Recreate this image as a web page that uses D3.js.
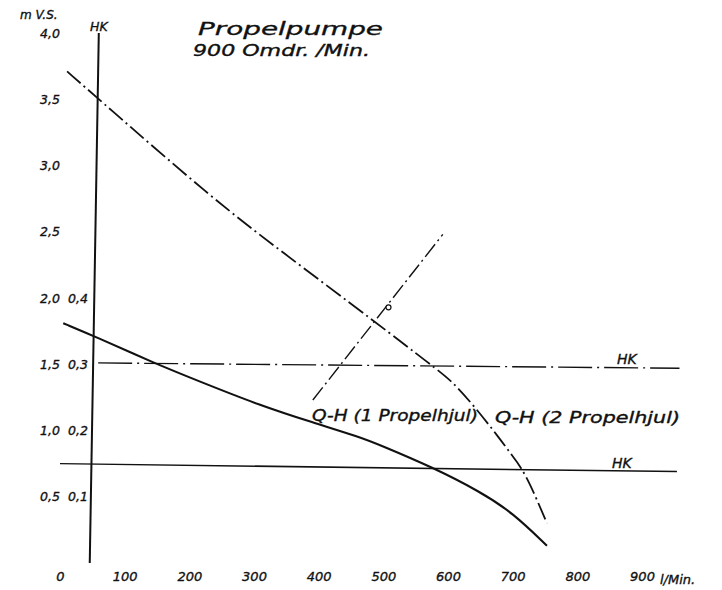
<!DOCTYPE html>
<html><head><meta charset="utf-8">
<script src="https://cdn.jsdelivr.net/npm/d3@7/dist/d3.min.js"></script>
<style>
html,body{margin:0;padding:0;background:#fff;}
svg text{font-family:"DejaVu Sans","Liberation Sans",sans-serif;font-style:italic;fill:#111;stroke:#111;stroke-width:0.35px;}
</style></head>
<body><svg id="c" width="722" height="590"></svg>
<script>
// ---- data ----
const xTickValues = [0,100,200,300,400,500,600,700,800,900];
const xTickLabels = ["0","100","200","300","400","500","600","700","800","900"];
const yTickValues = [4.0,3.5,3.0,2.5,2.0,1.5,1.0,0.5];
const yTickLabels = ["4,0","3,5","3,0","2,5","2,0","1,5","1,0","0,5"];
const hkTickValues = [2.0,1.5,1.0,0.5];
const hkTickLabels = ["0,4","0,3","0,2","0,1"];

// Q-H (1 Propelhjul) – solid
const q1 = [5, 54, 145, 216, 309, 391, 464, 495, 577, 649, 700, 753];
const h1 = [1.81, 1.71, 1.51, 1.37, 1.19, 1.06, 0.95, 0.89, 0.72, 0.54, 0.38, 0.13];
// Q-H (2 Propelhjul) – dash-dot
const q2 = [11, 60, 236, 340, 490, 575, 607, 641, 680, 696, 719, 753];
const h2 = [3.71, 3.50, 2.75, 2.36, 1.81, 1.49, 1.37, 1.18, 0.94, 0.83, 0.69, 0.30];
// operating line (dash-dot) and marked point
const qOp = [391, 592];
const hOp = [1.23, 2.48];
const qPoint = [508];
const hPoint = [1.93];
// HK reference lines
const qHKvert = [60, 46];
const hHKvert = [4.0, 0.0];
const qHKupper = [59, 958];
const hHKupper = [1.51, 1.47];
const qHKlower = [0, 954];
const hHKlower = [0.75, 0.69];

// ---- scales ----
const svg = d3.select("#c");
const x = d3.scaleLinear().domain([0,900]).range([60,642]);
const y = d3.scaleLinear().domain([0,4]).range([563,33]);
const zip = (a,b)=>a.map((v,i)=>[v,b[i]]);
const line = d3.line().x(d=>x(d[0])).y(d=>y(d[1]));
const curve = d3.line().x(d=>x(d[0])).y(d=>y(d[1])).curve(d3.curveBasis);

// HK vertical axis
svg.append("path").attr("d", line(zip(qHKvert,hHKvert)))
  .attr("fill","none").attr("stroke","#111").attr("stroke-width",2);
// HK horizontal lines
svg.append("path").attr("d", line(zip(qHKupper,hHKupper)))
  .attr("fill","none").attr("stroke","#111").attr("stroke-width",1.4)
  .attr("stroke-dasharray","34,5,2,5");
svg.append("path").attr("d", line(zip(qHKlower,hHKlower)))
  .attr("fill","none").attr("stroke","#111").attr("stroke-width",1.5);

// curves
svg.append("path").attr("d", curve(zip(q1,h1)))
  .attr("fill","none").attr("stroke","#111").attr("stroke-width",2.1);
svg.append("path").attr("d", curve(zip(q2,h2)))
  .attr("fill","none").attr("stroke","#111").attr("stroke-width",1.8)
  .attr("stroke-dasharray","18,4,2,4");
svg.append("path").attr("d", line(zip(qOp,hOp)))
  .attr("fill","none").attr("stroke","#111").attr("stroke-width",1.4)
  .attr("stroke-dasharray","16,4,2,4");
svg.selectAll("circle.pt").data(zip(qPoint,hPoint)).join("circle").attr("class","pt")
  .attr("cx",d=>x(d[0])).attr("cy",d=>y(d[1])).attr("r",2.5)
  .attr("fill","#fff").attr("stroke","#111").attr("stroke-width",1.2);

// x tick labels
const xAxis = d3.axisBottom(x).tickValues(xTickValues).tickFormat((d,i)=>xTickLabels[i]).tickSize(0).tickPadding(0);
const gx = svg.append("g").attr("transform","translate(0,571)").call(xAxis);
gx.select(".domain").remove();
gx.selectAll("text").attr("font-size",13).attr("dy","0.8em")
  .style("font-family",'"DejaVu Sans",sans-serif').style("font-style","italic").attr("fill","#111");
svg.append("text").attr("x",660).attr("y",584).attr("font-size",13).text("l/Min.");

// y tick labels (m V.S.)
const yAxis = d3.axisLeft(y).tickValues(yTickValues).tickFormat((d,i)=>yTickLabels[i]).tickSize(0).tickPadding(0);
const gy = svg.append("g").attr("transform","translate(60,0)").call(yAxis);
gy.select(".domain").remove();
gy.selectAll("text").attr("font-size",12.5)
  .style("font-family",'"DejaVu Sans",sans-serif').style("font-style","italic").attr("fill","#111");
// HK tick labels
const hkAxis = d3.axisLeft(y).tickValues(hkTickValues).tickFormat((d,i)=>hkTickLabels[i]).tickSize(0).tickPadding(0);
const gh = svg.append("g").attr("transform","translate(88,0)").call(hkAxis);
gh.select(".domain").remove();
gh.selectAll("text").attr("font-size",12.5)
  .style("font-family",'"DejaVu Sans",sans-serif').style("font-style","italic").attr("fill","#111");

// axis titles
svg.append("text").attr("x",20).attr("y",19).attr("font-size",12).text("m V.S.");
svg.append("text").attr("x",90).attr("y",31).attr("font-size",12.5).text("HK");

// title
svg.append("text").attr("x",198).attr("y",35).attr("font-size",18)
  .attr("textLength",185).attr("lengthAdjust","spacingAndGlyphs").text("Propelpumpe");
svg.append("text").attr("x",193).attr("y",56).attr("font-size",15)
  .attr("textLength",177).attr("lengthAdjust","spacingAndGlyphs").text("900 Omdr. /Min.");

// curve labels
svg.append("text").attr("x",312).attr("y",421).attr("font-size",15)
  .attr("textLength",166).attr("lengthAdjust","spacingAndGlyphs").text("Q-H (1 Propelhjul)");
svg.append("text").attr("x",495).attr("y",423).attr("font-size",15)
  .attr("textLength",185).attr("lengthAdjust","spacingAndGlyphs").text("Q-H (2 Propelhjul)");
svg.append("text").attr("x",617).attr("y",364).attr("font-size",14).text("HK");
svg.append("text").attr("x",612).attr("y",468).attr("font-size",14).text("HK");
</script></body></html>
